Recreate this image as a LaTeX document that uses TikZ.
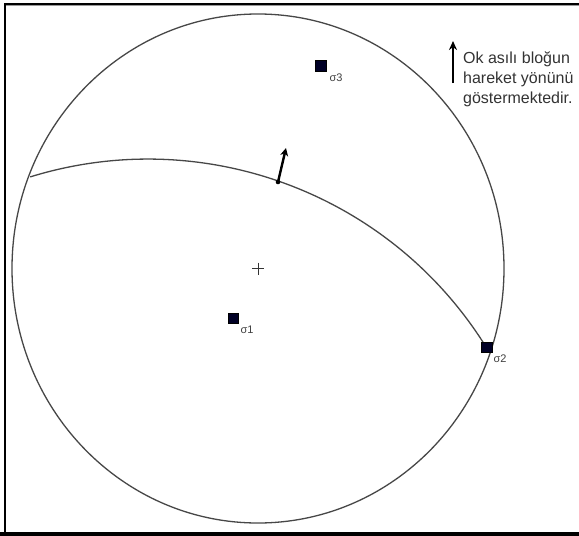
\documentclass[tikz,border=0pt]{standalone}
\usepackage{fontspec}
\setmainfont{Liberation Sans}
\usetikzlibrary{arrows.meta}
\begin{document}
\begin{tikzpicture}[x=1pt,y=-1pt,
  net/.style={draw=black!72,line width=1.3pt},
  pole/.style={draw=black,fill=black!85!blue,minimum size=10.5pt,inner sep=0pt,line width=0.6pt},
  plabel/.style={font=\fontsize{11}{12}\selectfont,text=black!75,inner sep=0pt},
  legend/.style={font=\fontsize{16}{20.5}\selectfont,text=black!80,align=left,inner sep=0pt},
  motion/.style={line width=2.4pt,-{Stealth[length=8pt,width=8pt]}}]
\useasboundingbox (0,0) rectangle (579,536);
\fill[white] (0,0) rectangle (579,536);
% frame
\draw[line width=2pt] (5,3) -- (5,536);
\draw[line width=1.8pt] (4,4) -- (579,4);
\draw[black!40,line width=1pt] (6,5.8) -- (579,5.8);
\draw[line width=4.5pt] (0,533.8) -- (579,533.8);
% primitive
\coordinate (c) at (258,268.5);
\draw[net] (c) ellipse [x radius=246, y radius=254.5];
% centre cross
\draw[black!80,line width=0.8pt] (252,268.5) -- (264,268.5) (258,262.5) -- (258,274.5);
% great circle (fault plane)
\coordinate (gA) at (30.2,176.9);
\draw[net] (gA) arc[start angle=-107.2, end angle=-31.9, radius=398.2];
% poles
\node[pole] (s3) at (321,66) {};
\node[pole] (s1) at (233.5,318.5) {};
\node[pole] (s2) at (487,347.5) {};
\node[plabel] (l3) at (336,78) {σ3};
\node[plabel] (l1) at (247,330) {σ1};
\node[plabel] (l2) at (500,359) {σ2};
% motion arrow
\coordinate (mb) at (278,182);
\coordinate (mt) at (286,148);
\fill (mb) circle (2.3);
\draw[motion] (mb) -- (mt);
% legend
\coordinate (lb) at (453,83);
\coordinate (lt) at (453,41);
\draw[line width=2.4pt,-{Stealth[length=9pt,width=8pt]}] (lb) -- (lt);
\node[legend,anchor=north west] (leg) at (463,51) {Ok asılı bloğun\\hareket yönünü\\göstermektedir.};
\end{tikzpicture}
\end{document}
